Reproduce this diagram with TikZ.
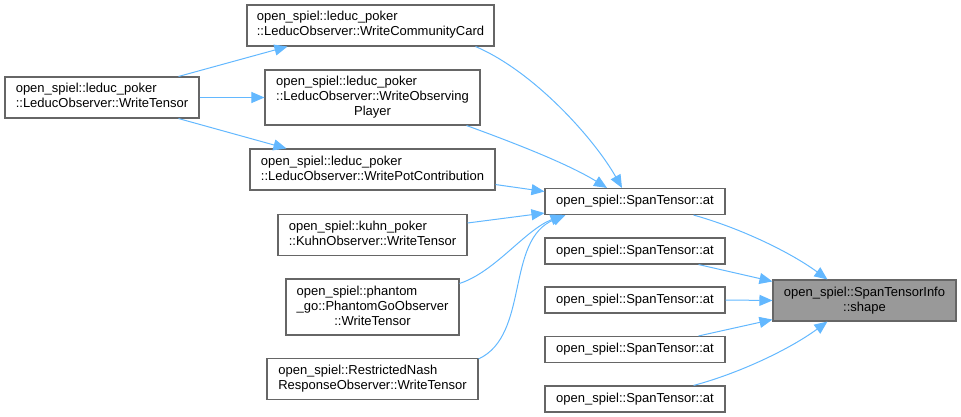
\documentclass[tikz,border=0pt]{standalone}
\usepackage{fontspec}
\setmainfont{Liberation Sans}
\usetikzlibrary{arrows.meta,calc}
\definecolor{edgec}{HTML}{63B8FF}
\definecolor{boxc}{HTML}{666666}
\definecolor{hl}{HTML}{999999}
\newcommand\lft[1]{\begin{tabular}{@{}l@{}}#1\end{tabular}}
\newcommand\ctrl[1]{\multicolumn{1}{@{}c@{}}{#1}}
\begin{document}
\begin{tikzpicture}[x=1pt,y=-1pt,
  fn/.style={draw=boxc,line width=1.1pt,fill=white,inner sep=0pt,
    font=\fontsize{13}{15}\selectfont},
  cur/.style={fn,fill=hl},
  call/.style={draw=edgec,line width=1pt,-{Triangle[length=13pt,width=11pt]}}]
\useasboundingbox (0,0) rectangle (961,417);
% nodes
\node[fn,minimum width=247pt,minimum height=41pt] (cc) at (370.5,25.5)
  {\lft{open\_spiel::leduc\_poker\\::LeducObserver::WriteCommunityCard}};
\node[fn,minimum width=194pt,minimum height=41pt] (lwt) at (102,97.5)
  {\lft{open\_spiel::leduc\_poker\\::LeducObserver::WriteTensor}};
\node[fn,minimum width=215pt,minimum height=55pt] (wop) at (372.5,97.5)
  {\lft{open\_spiel::leduc\_poker\\::LeducObserver::WriteObserving\\\ctrl{Player}}};
\node[fn,minimum width=245pt,minimum height=41pt] (wpc) at (372.5,169.5)
  {\lft{open\_spiel::leduc\_poker\\::LeducObserver::WritePotContribution}};
\node[fn,minimum width=189pt,minimum height=41pt] (kuhn) at (372.5,235)
  {\lft{open\_spiel::kuhn\_poker\\::KuhnObserver::WriteTensor}};
\node[fn,minimum width=173pt,minimum height=56pt] (pg) at (372.5,307)
  {\lft{open\_spiel::phantom\\\_go::PhantomGoObserver\\\ctrl{::WriteTensor}}};
\node[fn,minimum width=211pt,minimum height=41pt] (rn) at (372.5,379)
  {\lft{open\_spiel::RestrictedNash\\ResponseObserver::WriteTensor}};
\node[fn,minimum width=180pt,minimum height=26pt] (at1) at (635,201.5) {open\_spiel::SpanTensor::at};
\node[fn,minimum width=180pt,minimum height=26pt] (at2) at (635,251) {open\_spiel::SpanTensor::at};
\node[fn,minimum width=180pt,minimum height=26pt] (at3) at (635,300) {open\_spiel::SpanTensor::at};
\node[fn,minimum width=180pt,minimum height=26pt] (at4) at (635,349.5) {open\_spiel::SpanTensor::at};
\node[fn,minimum width=180pt,minimum height=26pt] (at5) at (635,399) {open\_spiel::SpanTensor::at};
\node[cur,minimum width=183pt,minimum height=41pt] (shape) at (864.5,300.5)
  {\lft{open\_spiel::SpanTensorInfo\\\ctrl{::shape}}};
% edges
\draw[call] ($(lwt.north east)+(-21,0)$) -- ($(cc.south west)+(41,0)$);
\draw[call] (lwt.east) -- (wop.west);
\draw[call] ($(lwt.south east)+(-21,0)$) -- ($(wpc.north west)+(37,0)$);
\draw[call] ($(cc.south east)+(-19,0)$) .. controls (535,72) and (595,140) .. ($(at1.north)+(-13,0)$);
\draw[call] ($(wop.south east)+(-14,0)$) .. controls (520,145) and (570,165) .. ($(at1.north)+(-28,0)$);
\draw[call] ($(wpc.south east)+(0,-6)$) -- ($(at1.west)+(0,-10)$);
\draw[call] ($(kuhn.east)+(0,-12)$) -- ($(at1.south west)+(0,-2)$);
\draw[call] ($(pg.north east)+(0,5)$) .. controls (495,272) and (525,230) .. ($(at1.south west)+(19,0)$);
\draw[call] ($(rn.north east)+(0,1)$) .. controls (530,335) and (505,240) .. ($(at1.south west)+(21,0)$);
\draw[call] ($(at1.south east)+(-32,0)$) .. controls (740,228) and (790,252) .. ($(shape.north west)+(55,0)$);
\draw[call] ($(at2.south east)+(-27,0)$) -- ($(shape.north west)+(0,2)$);
\draw[call] (at3.east) -- (shape.west);
\draw[call] ($(at4.north east)+(-27,0)$) -- ($(shape.south west)+(0,-2)$);
\draw[call] ($(at5.north east)+(-32,0)$) .. controls (740,373) and (790,349) .. ($(shape.south west)+(55,0)$);
\end{tikzpicture}
\end{document}
